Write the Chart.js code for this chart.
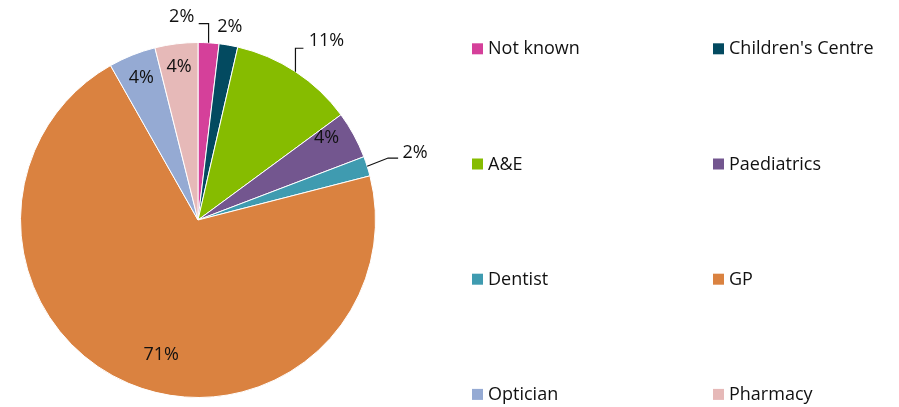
<!DOCTYPE html>
<html>
<head>
<meta charset="utf-8">
<script src="https://cdn.jsdelivr.net/npm/chart.js@4"></script>
<style>
html,body{margin:0;padding:0;background:#fff;}
#wrap{width:899px;height:407px;position:relative;}
</style>
</head>
<body>
<div id="wrap"><canvas id="c" width="899" height="407"></canvas></div>
<script>
const categories = ["Not known", "Children's Centre", "A&E", "Paediatrics", "Dentist", "GP", "Optician", "Pharmacy"];
const values = [1.9, 1.7, 11.3, 4.3, 1.8, 70.8, 4.3, 3.9];
const colors = ["#D5409A", "#034A60", "#86BC00", "#73568F", "#3F9BB0", "#DA8240", "#95AAD3", "#E6B9B8"];

const FONT = "'Open Sans', Lato, sans-serif";

// label placement styles: polar offset from pie centre (fraction of radius, angle offset in deg)
const labelStyle = [
  {r: 1.15, da: -8.0, leader: 'vert', hx: 17},
  {r: 1.10, da: -0.5},
  {r: 1.24, da: 2.4, leader: 'vert', hx: -23},
  {r: 0.86, da: -4},
  {r: 1.28, da: 0.5, leader: 'diag'},
  {r: 0.79, da: -7.8},
  {r: 0.86, da: 0},
  {r: 0.87, da: 0}
];

const labelPlugin = {
  id: 'pctLabels',
  afterDatasetsDraw(chart) {
    const ctx = chart.ctx;
    const meta = chart.getDatasetMeta(0);
    const total = values.reduce((a, b) => a + b, 0);
    ctx.save();
    ctx.font = "18px " + FONT;
    ctx.fillStyle = "#111";
    ctx.strokeStyle = "#111";
    ctx.lineWidth = 1.2;
    ctx.textAlign = "center";
    ctx.textBaseline = "middle";
    meta.data.forEach((arc, i) => {
      const p = arc.getProps(['x', 'y', 'startAngle', 'endAngle', 'outerRadius']);
      const mid = (p.startAngle + p.endAngle) / 2;
      const st = labelStyle[i];
      const a = mid + st.da * Math.PI / 180;
      const tx = p.x + Math.cos(a) * p.outerRadius * st.r;
      const ty = p.y + Math.sin(a) * p.outerRadius * st.r;
      const txt = Math.round(values[i] / total * 100) + "%";
      const ex = p.x + Math.cos(mid) * p.outerRadius;
      const ey = p.y + Math.sin(mid) * p.outerRadius;
      if (st.leader === 'vert') {
        ctx.beginPath();
        ctx.moveTo(ex, ey);
        ctx.lineTo(ex, ty + 7);
        ctx.lineTo(tx + st.hx, ty + 7);
        ctx.stroke();
      } else if (st.leader === 'diag') {
        ctx.beginPath();
        ctx.moveTo(ex, ey);
        ctx.lineTo(tx - 27, ty + 5);
        ctx.lineTo(tx - 17, ty + 5);
        ctx.stroke();
      }
      ctx.fillText(txt, tx, ty);
    });
    ctx.restore();
  }
};

const legendPlugin = {
  id: 'gridLegend',
  afterDraw(chart) {
    const ctx = chart.ctx;
    ctx.save();
    ctx.font = "18px " + FONT;
    ctx.textBaseline = "middle";
    ctx.textAlign = "left";
    const colX = [472, 713];
    const rowY0 = 48.8, rowStep = 115.2;
    categories.forEach((name, i) => {
      const col = i % 2, row = Math.floor(i / 2);
      const x = colX[col], y = rowY0 + row * rowStep;
      ctx.fillStyle = colors[i];
      ctx.fillRect(x, y - 5.5, 11, 11);
      ctx.fillStyle = "#111";
      ctx.fillText(name, x + 16, y + 0.5);
    });
    ctx.restore();
  }
};

new Chart(document.getElementById('c'), {
  type: 'pie',
  data: {
    labels: categories,
    datasets: [{
      data: values,
      backgroundColor: colors,
      borderColor: "#ffffff",
      borderWidth: 1
    }]
  },
  options: {
    responsive: false,
    animation: false,
    layout: {padding: {left: 20, right: 523, top: 42, bottom: 9}},
    plugins: {legend: {display: false}, tooltip: {enabled: false}}
  },
  plugins: [labelPlugin, legendPlugin]
});
</script>
</body>
</html>
